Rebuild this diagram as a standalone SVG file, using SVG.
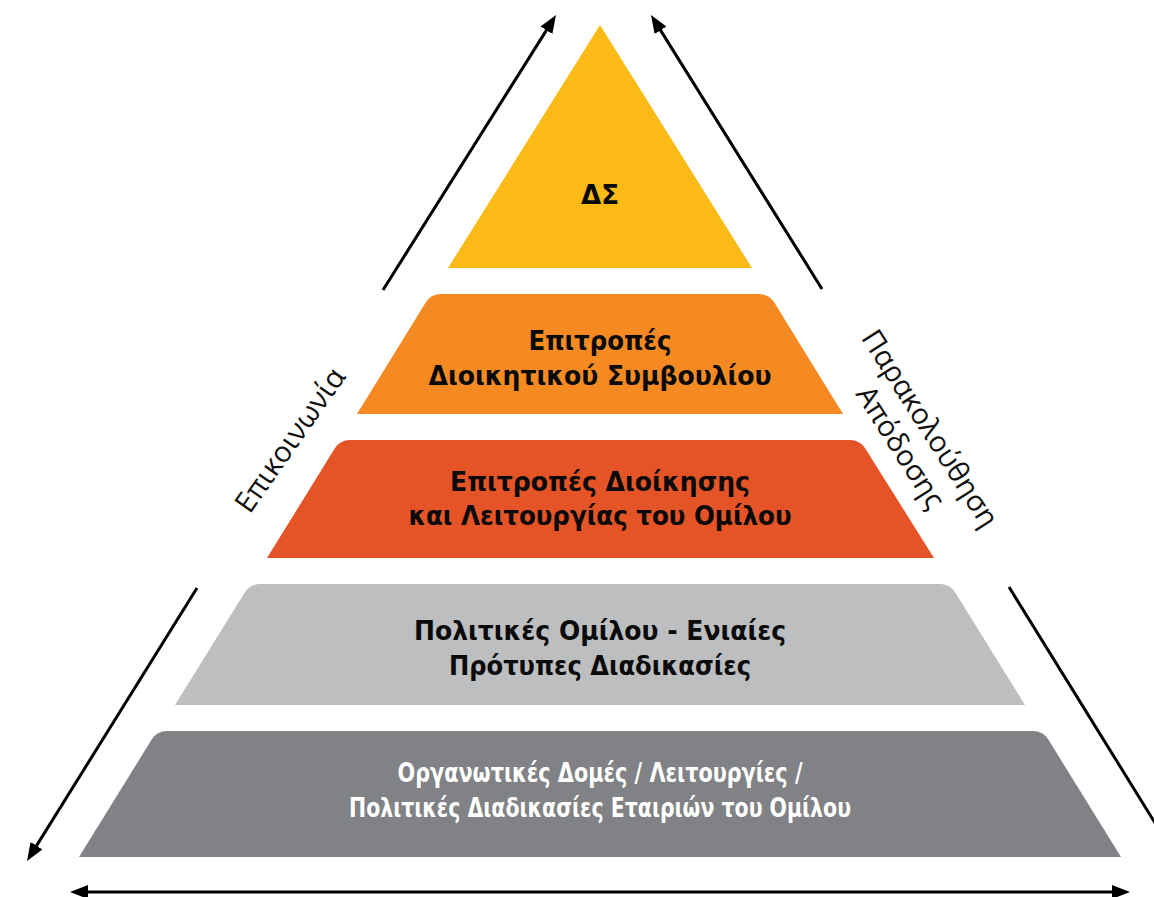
<svg xmlns="http://www.w3.org/2000/svg" width="1154" height="897" viewBox="0 0 1154 897">
<defs>
<marker id="ah" markerUnits="userSpaceOnUse" markerWidth="18" markerHeight="14" refX="12" refY="7" orient="auto-start-reverse" viewBox="0 0 18 14">
<path d="M0,0 L18,7 L0,14 z" fill="#000"/>
</marker>
</defs>
<style>
.lbl{font-family:"DejaVu Sans",Roboto,sans-serif;font-weight:bold;font-size:27px;text-anchor:middle;fill:#0a0a0a}
.wht{fill:#fff}
.side{font-family:"Open Sans","Noto Sans",sans-serif;font-size:29px;text-anchor:middle;fill:#111}
.arr{stroke:#000;stroke-width:3;fill:none}
</style>
<rect width="1154" height="897" fill="#fff"/>
<g id="ds">
<path d="M600,25 L752,268 L448,268 z" fill="#FBBA16"/>
<text class="lbl" x="600" y="204" textLength="38" lengthAdjust="spacingAndGlyphs">ΔΣ</text>
</g>
<g id="board-committees">
<path d="M357,414 L425.7,302.5 Q431,294 441,294 L759,294 Q769,294 774.3,302.5 L843,414 z" fill="#F58A22"/>
<text class="lbl" x="600" y="350" textLength="143" lengthAdjust="spacingAndGlyphs">Επιτροπές</text>
<text class="lbl" x="600" y="385" textLength="343" lengthAdjust="spacingAndGlyphs">Διοικητικού Συμβουλίου</text>
</g>
<g id="mgmt-committees">
<path d="M267,558 L334.7,448.5 Q340,440 350,440 L850,440 Q860,440 865.3,448.5 L934,558 z" fill="#E55427"/>
<text class="lbl" x="600" y="491" textLength="300" lengthAdjust="spacingAndGlyphs">Επιτροπές Διοίκησης</text>
<text class="lbl" x="600" y="525" textLength="383" lengthAdjust="spacingAndGlyphs">και Λειτουργίας του Ομίλου</text>
</g>
<g id="group-policies">
<path d="M175,705 L244.7,592.5 Q250,584 260,584 L940,584 Q950,584 955.3,592.5 L1025,705 z" fill="#BCBEC0"/>
<text class="lbl" x="600" y="640" textLength="372" lengthAdjust="spacingAndGlyphs">Πολιτικές Ομίλου - Ενιαίες</text>
<text class="lbl" x="600" y="675" textLength="302" lengthAdjust="spacingAndGlyphs">Πρότυπες Διαδικασίες</text>
</g>
<g id="company-structures">
<path d="M79,857 L151.7,739.5 Q157,731 167,731 L1033,731 Q1043,731 1048.3,739.5 L1121,857 z" fill="#808285"/>
<text class="lbl wht" x="600" y="782" textLength="405" lengthAdjust="spacingAndGlyphs">Οργανωτικές Δομές / Λειτουργίες /</text>
<text class="lbl wht" x="600" y="817" textLength="502" lengthAdjust="spacingAndGlyphs">Πολιτικές Διαδικασίες Εταιριών του Ομίλου</text>
</g>
<g id="connectors">
<line class="arr" x1="383" y1="290" x2="552.8" y2="20.1" marker-end="url(#ah)"/>
<line class="arr" x1="822" y1="289" x2="654.2" y2="20.1" marker-end="url(#ah)"/>
<line class="arr" x1="197" y1="588" x2="30.2" y2="855.9" marker-end="url(#ah)"/>
<line class="arr" x1="1009" y1="587" x2="1165" y2="839"/>
<line class="arr" x1="76" y1="892" x2="1124" y2="892" marker-start="url(#ah)" marker-end="url(#ah)"/>
</g>
<g id="label-communication">
<text class="side" transform="translate(290,440) rotate(-55)" x="0" y="10">Επικοινωνία</text>
</g>
<g id="label-monitoring">
<text class="side" transform="translate(915,438) rotate(57.5)" x="0" y="-8">Παρακολούθηση</text>
<text class="side" transform="translate(915,438) rotate(57.5)" x="0" y="27">Απόδοσης</text>
</g>
</svg>
